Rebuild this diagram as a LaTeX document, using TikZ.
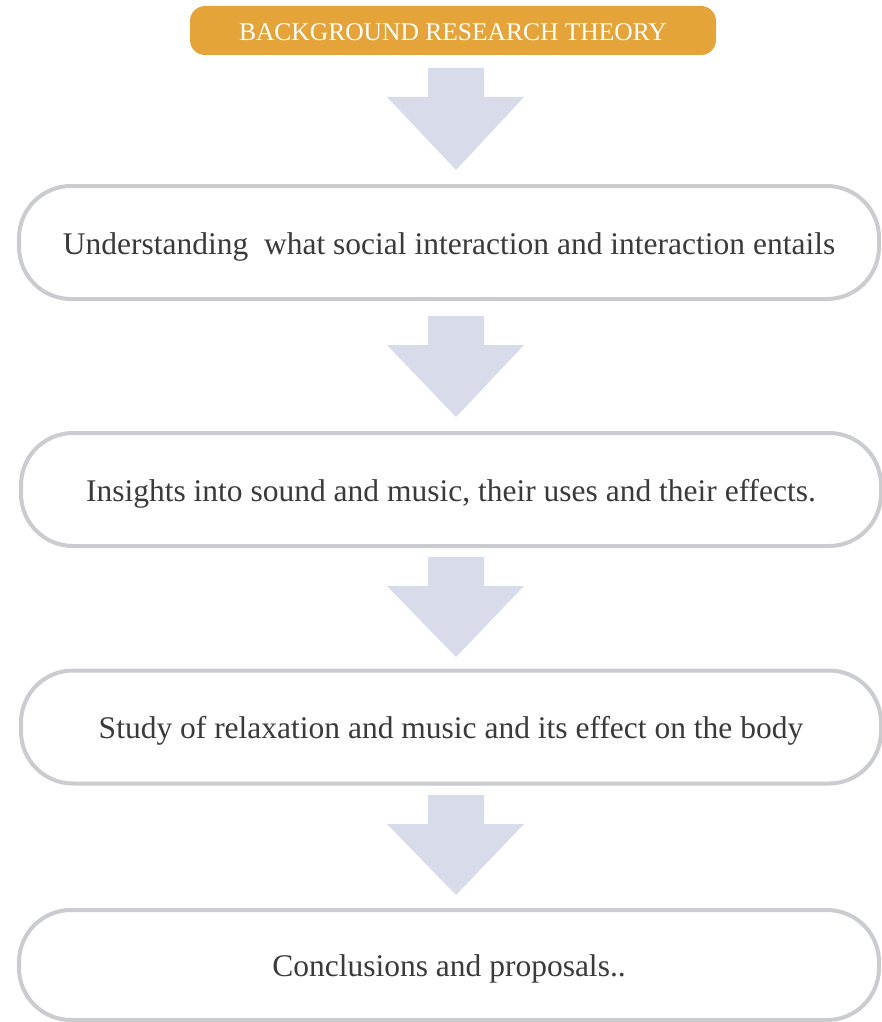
\documentclass[tikz,border=0pt]{standalone}
\usepackage{fontspec}
\setmainfont{Liberation Serif}
\usetikzlibrary{calc}
\definecolor{orangebox}{HTML}{E5A43A}
\definecolor{arrowfill}{HTML}{D8DCEA}
\definecolor{boxline}{HTML}{CBCCCF}
\definecolor{txt}{HTML}{3A3A3A}
\tikzset{
  titlebox/.style={fill=orangebox, draw=none, rounded corners=15pt, minimum width=526pt, minimum height=49pt, inner sep=0pt, text=white, text height=21pt, text depth=0pt, font=\fontsize{25.5}{28}\selectfont},
  stepbox/.style={draw=boxline, line width=4pt, fill=white, rounded corners=52pt, minimum width=860pt, minimum height=113pt, inner sep=0pt, text=txt, text height=26pt, text depth=3pt, font=\fontsize{31.5}{34}\selectfont},
  blockarrow/.style={fill=arrowfill, draw=none}
}
\newcommand{\fatarrow}[2]{% #1 = top coordinate name, #2 = tip
  \fill[blockarrow] ($(#1)+(-28pt,0)$) -- ($(#1)+(28pt,0)$) -- ($(#1)+(28pt,-29pt)$) -- ($(#1)+(68pt,-29pt)$) -- (#2) -- ($(#1)+(-69pt,-29pt)$) -- ($(#1)+(-28pt,-29pt)$) -- cycle;
}
\begin{document}
\begin{tikzpicture}[x=1pt,y=1pt]
\useasboundingbox (0,0) rectangle (881,-1022);
\fill[white] (0,0) rectangle (881,-1022);
\node[titlebox] (t) at (453,-30.5) {BACKGROUND RESEARCH THEORY};
\node[stepbox] (b1) at (449,-242.5) {Understanding\ \ what social interaction and interaction entails};
\node[stepbox] (b2) at (451,-489.5) {Insights into sound and music, their uses and their effects.};
\node[stepbox] (b3) at (451,-727) {Study of relaxation and music and its effect on the body};
\node[stepbox, minimum height=110pt] (b4) at (449,-965) {Conclusions and proposals..};
\coordinate (a1) at (456,-68);  \coordinate (a1t) at (456,-170);
\coordinate (a2) at (456,-316); \coordinate (a2t) at (456,-417);
\coordinate (a3) at (456,-557); \coordinate (a3t) at (456,-657);
\coordinate (a4) at (456,-795); \coordinate (a4t) at (456,-895);
\fatarrow{a1}{a1t}
\fatarrow{a2}{a2t}
\fatarrow{a3}{a3t}
\fatarrow{a4}{a4t}
\end{tikzpicture}
\end{document}
